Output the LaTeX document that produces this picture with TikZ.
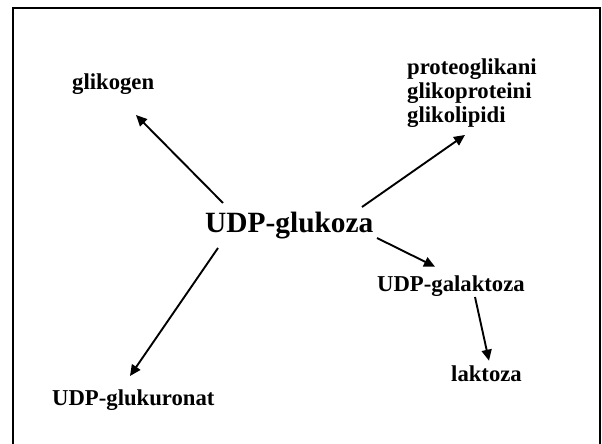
\documentclass[tikz,border=0pt]{standalone}
\usepackage{fontspec}
\setmainfont{Liberation Serif}
\usetikzlibrary{arrows.meta}
\begin{document}
\begin{tikzpicture}[x=1pt,y=1pt,
  lbl/.style={inner sep=0pt, anchor=base west, font=\bfseries\fontsize{22.7}{24}\selectfont},
  mainlbl/.style={inner sep=0pt, anchor=base west, font=\bfseries\fontsize{29.4}{32}\selectfont},
  arr/.style={line width=1.9pt, -{Triangle[length=11pt,width=10pt]}}]
\useasboundingbox (0,0) rectangle (602,444);
% frame (its lower edge lies below the page)
\begin{scope}
  \clip (0,0) rectangle (602,444);
  \draw[line width=2.3pt] (13,-10) -- (13,435.7) -- (600,435.7) -- (600,-10);
\end{scope}
% labels
\node[mainlbl] (main) at (205,211) {UDP-glukoza};
\node[lbl] (glik) at (72,354) {glikogen};
\node[lbl, align=left] (prot) at (407,321) {proteoglikani\\glikoproteini\\glikolipidi};
\node[lbl] (gal) at (377,152.3) {UDP-galaktoza};
\node[lbl] (lak) at (451,62.3) {laktoza};
\node[lbl] (glu) at (52,38) {UDP-glukuronat};
% connectors
\draw[arr] ([shift={(18,30)}]main.base west) -- ([shift={(64,-25)}]glik.base west);
\draw[arr] ([shift={(157,26)}]main.base west) -- ([shift={(58,-12)}]prot.base west);
\draw[arr] ([shift={(172,-5)}]main.base west) -- ([shift={(58,25)}]gal.base west);
\draw[arr] ([shift={(98,-5.3)}]gal.base west) -- ([shift={(38,21)}]lak.base west);
\draw[arr] ([shift={(13,-15)}]main.base west) -- ([shift={(78,30)}]glu.base west);
\end{tikzpicture}
\end{document}
